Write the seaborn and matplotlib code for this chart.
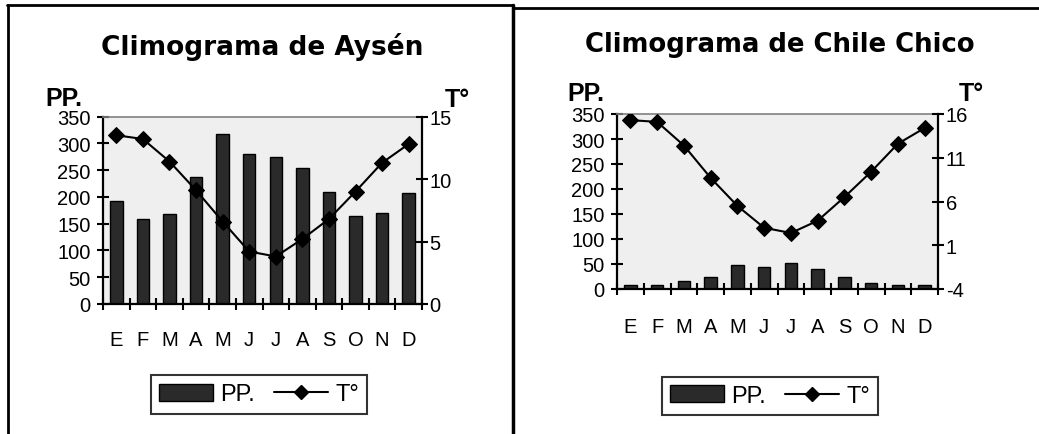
import numpy as np
import pandas as pd
import matplotlib
matplotlib.use("Agg")
import matplotlib.pyplot as plt
import seaborn as sns
from matplotlib.patches import Patch
from matplotlib.lines import Line2D

months = ['E', 'F', 'M', 'A', 'M', 'J', 'J', 'A', 'S', 'O', 'N', 'D']

aysen_pp = [192, 159, 168, 237, 318, 280, 274, 254, 210, 164, 170, 207]
aysen_t = [13.5, 13.2, 11.4, 9.1, 6.6, 4.2, 3.8, 5.2, 6.8, 9.0, 11.3, 12.8]

chile_pp = [8, 8, 16, 24, 48, 44, 52, 41, 24, 12, 8, 8]
chile_t = [15.3, 15.1, 12.4, 8.7, 5.5, 3.0, 2.4, 3.8, 6.5, 9.4, 12.6, 14.4]

titles = ['Climograma de Aysén', 'Climograma de Chile Chico']
left_ticks = [0, 50, 100, 150, 200, 250, 300, 350]
right_ticks_a = [0, 5, 10, 15]
right_ticks_c = [-4, 1, 6, 11, 16]

sns.set_theme(style="white")
plt.rcParams['font.family'] = ['Liberation Sans', 'DejaVu Sans']
plt.rcParams['text.color'] = 'black'
plt.rcParams['axes.labelcolor'] = 'black'
plt.rcParams['xtick.color'] = 'black'
plt.rcParams['ytick.color'] = 'black'
plt.rcParams['axes.unicode_minus'] = False

W, H = 1039, 435
fig = plt.figure(figsize=(W / 100, H / 100), dpi=100)

def px_axes(x0, y0, x1, y1):
    return fig.add_axes([x0 / W, 1 - y1 / H, (x1 - x0) / W, (y1 - y0) / H])

BAR = '#2a2a2a'
BG = '#efefef'

def panel(box, pp, temp, tticks, tlim, title, title_xy, title_fs, pp_xy, t_xy,
          leg_xy, xpad):
    ax = px_axes(*box)
    ax.set_facecolor(BG)
    pos = np.arange(len(months))
    df = pd.DataFrame({'pos': pos, 'pp': pp, 't': temp})
    sns.barplot(data=df, x='pos', y='pp', ax=ax, color=BAR, width=0.47,
                edgecolor='black', linewidth=1.0, saturation=1)
    ax.set_xlim(-0.5, len(months) - 0.5)
    ax.set_ylim(0, 350)
    ax.set_yticks(left_ticks)
    ax.set_xticks(pos)
    ax.set_xticklabels(months)
    ax.set_xticks(np.arange(-0.5, len(months)), minor=True)
    ax.tick_params(axis='x', which='major', length=0, pad=xpad, labelsize=14.5)
    ax.tick_params(axis='x', which='minor', direction='inout', length=8,
                   width=1.5, color='black', bottom=True)
    ax.tick_params(axis='y', direction='inout', length=8, width=1.5,
                   color='black', labelsize=14.5, pad=5, left=True)
    ax.set_xlabel('')
    ax.set_ylabel('')
    for s in ['left', 'bottom']:
        ax.spines[s].set_color('black')
        ax.spines[s].set_linewidth(1.6)
    ax.spines['top'].set_color('#808080')
    ax.spines['top'].set_linewidth(1.2)
    ax.spines['right'].set_visible(False)

    ax2 = ax.twinx()
    sns.lineplot(data=df, x='pos', y='t', ax=ax2, color='black', marker='D',
                 markersize=8, linewidth=1.5, markeredgecolor='black')
    ax2.set_ylim(*tlim)
    ax2.set_yticks(tticks)
    ax2.set_xlim(-0.5, len(months) - 0.5)
    ax2.set_ylabel('')
    ax2.set_xlabel('')
    ax2.tick_params(axis='y', direction='inout', length=9, width=1.5,
                    color='black', labelsize=14.5, pad=1, right=True)
    for s in ['left', 'top', 'bottom']:
        ax2.spines[s].set_visible(False)
    ax2.spines['right'].set_color('black')
    ax2.spines['right'].set_linewidth(1.6)
    ax2.grid(False)
    ax.grid(False)

    fig.text(title_xy[0] / W, 1 - title_xy[1] / H, title, ha='center', va='baseline',
             fontsize=title_fs, fontweight='bold', family='DejaVu Sans')
    fig.text(pp_xy[0] / W, 1 - pp_xy[1] / H, 'PP.', ha='center', va='baseline',
             fontsize=18, fontweight='bold')
    fig.text(t_xy[0] / W, 1 - t_xy[1] / H, 'T°', ha='center', va='baseline',
             fontsize=18, fontweight='bold')

    handles = [Patch(facecolor=BAR, edgecolor='black', linewidth=1.0),
               Line2D([], [], color='black', marker='D', markersize=7, linewidth=1.5)]
    leg = fig.legend(handles, ['PP.', 'T°'], loc='center',
                     bbox_to_anchor=(leg_xy[0] / W, 1 - leg_xy[1] / H),
                     ncol=2, fontsize=17, frameon=True, fancybox=False,
                     handlelength=2.3, handleheight=0.7, handletextpad=0.3,
                     columnspacing=0.8, borderpad=0.35, borderaxespad=0)
    leg.get_frame().set_edgecolor('black')
    leg.get_frame().set_linewidth(1.5)
    return ax, ax2

panel((103, 117.5, 422, 305), aysen_pp, aysen_t, right_ticks_a, (0, 15),
      titles[0], (262, 55), 19, (64, 106), (457, 107), (259, 395.5), 19)
panel((617, 115, 938, 290), chile_pp, chile_t, right_ticks_c, (-4, 16),
      titles[1], (780, 52), 18.7, (586, 101), (971, 101), (770, 397), 20)

# panel borders
def fline(x0, y0, x1, y1, lw=2.0):
    fig.add_artist(Line2D([x0 / W, x1 / W], [1 - y0 / H, 1 - y1 / H],
                          color='black', linewidth=lw, transform=fig.transFigure))

fline(7, 6, 513, 6)
fline(7.5, 6, 7.5, 435)
fline(513, 6, 513, 435, lw=2.5)
fline(513, 9, 1039, 9)

fig.savefig('out.png', dpi=100)
